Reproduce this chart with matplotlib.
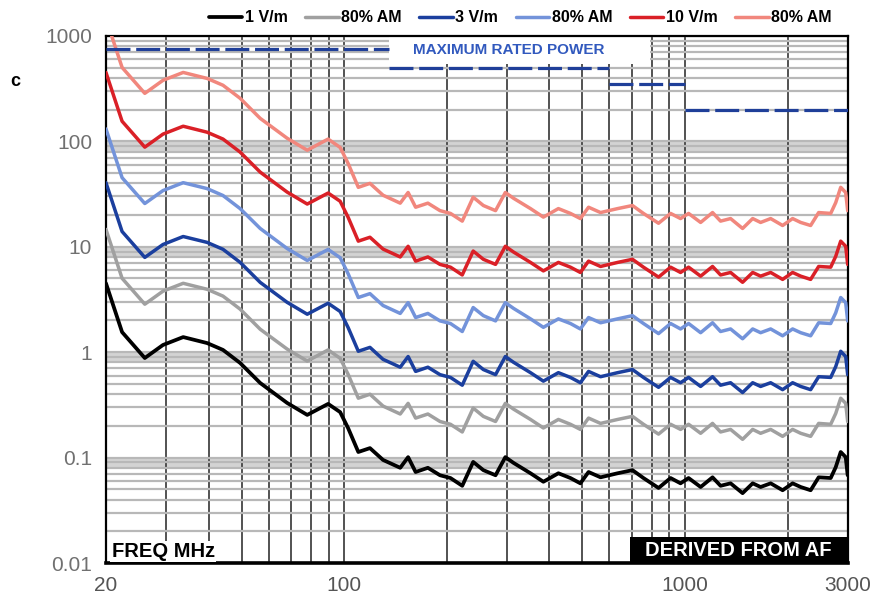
import numpy as np
import matplotlib
matplotlib.use("Agg")
import matplotlib.pyplot as plt
from matplotlib.ticker import FixedLocator, LogLocator, NullFormatter, FixedFormatter
from matplotlib.patches import Rectangle

plt.rcParams['font.family'] = ['Liberation Sans', 'DejaVu Sans']

# frequency points (MHz) shared by all curves
freq = [20, 22.3, 26.0, 29.4, 33.7, 39.6, 44.1, 49.5, 56.7, 68, 77.9, 89.7, 97.3, 102.7,
        110, 119, 130, 146, 154, 162, 176, 191, 205, 222, 239, 256, 278, 297, 314, 352,
        384, 425, 461, 493, 521, 565, 634, 701, 755, 836, 907, 970, 1024, 1111, 1204,
        1271, 1360, 1475, 1579, 1666, 1783, 1933, 2068, 2184, 2336, 2466, 2675, 2767,
        2862, 2960, 3000]

# 1 V/m
v1 = [4.5, 1.55, 0.88, 1.17, 1.39, 1.22, 1.05, 0.79, 0.51, 0.33, 0.254, 0.323, 0.27, 0.19,
      0.113, 0.123, 0.095, 0.080, 0.101, 0.073, 0.080, 0.068, 0.064, 0.054, 0.091, 0.076,
      0.068, 0.101, 0.089, 0.071, 0.059, 0.071, 0.064, 0.057, 0.073, 0.065, 0.071, 0.076,
      0.064, 0.0515, 0.064, 0.057, 0.064, 0.0526, 0.065, 0.054, 0.057, 0.046, 0.057,
      0.0526, 0.057, 0.049, 0.057, 0.0526, 0.049, 0.065, 0.064, 0.081, 0.113, 0.101, 0.068]

# 1 V/m, 80% AM
v1am = [14.6, 5.02, 2.85, 3.79, 4.50, 3.95, 3.40, 2.56, 1.65, 1.07, 0.823, 1.05, 0.875, 0.616,
        0.366, 0.399, 0.308, 0.259, 0.327, 0.237, 0.259, 0.220, 0.207, 0.175, 0.295, 0.246,
        0.220, 0.327, 0.288, 0.230, 0.191, 0.230, 0.207, 0.185, 0.237, 0.211, 0.230, 0.246,
        0.207, 0.167, 0.207, 0.185, 0.207, 0.170, 0.211, 0.175, 0.185, 0.149, 0.185,
        0.170, 0.185, 0.159, 0.185, 0.170, 0.159, 0.211, 0.207, 0.262, 0.366, 0.327, 0.220]

# 3 V/m
v3 = [40.5, 13.95, 7.92, 10.5, 12.5, 11.0, 9.45, 7.11, 4.59, 2.97, 2.29, 2.91, 2.43, 1.71,
      1.02, 1.11, 0.855, 0.72, 0.909, 0.657, 0.72, 0.612, 0.576, 0.486, 0.819, 0.684,
      0.612, 0.909, 0.801, 0.639, 0.531, 0.639, 0.576, 0.513, 0.657, 0.585, 0.639, 0.684,
      0.576, 0.464, 0.576, 0.513, 0.576, 0.473, 0.585, 0.486, 0.513, 0.414, 0.513,
      0.473, 0.513, 0.441, 0.513, 0.473, 0.441, 0.585, 0.576, 0.729, 1.02, 0.909, 0.612]

# 3 V/m, 80% AM
v3am = [131, 45.2, 25.7, 34.1, 40.5, 35.6, 30.6, 23.0, 14.9, 9.62, 7.41, 9.42, 7.87, 5.54,
        3.30, 3.59, 2.77, 2.33, 2.95, 2.13, 2.33, 1.98, 1.87, 1.57, 2.65, 2.22,
        1.98, 2.95, 2.60, 2.07, 1.72, 2.07, 1.87, 1.66, 2.13, 1.90, 2.07, 2.22,
        1.87, 1.50, 1.87, 1.66, 1.87, 1.53, 1.90, 1.57, 1.66, 1.34, 1.66,
        1.53, 1.66, 1.43, 1.66, 1.53, 1.43, 1.90, 1.87, 2.36, 3.30, 2.95, 1.98]

# 10 V/m
v10 = [450, 155, 88, 117, 139, 122, 105, 79, 51, 33, 25.4, 32.3, 27, 19,
       11.3, 12.3, 9.5, 8.0, 10.1, 7.3, 8.0, 6.8, 6.4, 5.4, 9.1, 7.6,
       6.8, 10.1, 8.9, 7.1, 5.9, 7.1, 6.4, 5.7, 7.3, 6.5, 7.1, 7.6,
       6.4, 5.15, 6.4, 5.7, 6.4, 5.26, 6.5, 5.4, 5.7, 4.6, 5.7,
       5.26, 5.7, 4.9, 5.7, 5.26, 4.9, 6.5, 6.4, 8.1, 11.3, 10.1, 6.8]

# 10 V/m, 80% AM
v10am = [1458, 502, 285, 379, 450, 395, 340, 256, 165, 107, 82.3, 105, 87.5, 61.6,
         36.6, 39.9, 30.8, 25.9, 32.7, 23.7, 25.9, 22.0, 20.7, 17.5, 29.5, 24.6,
         22.0, 32.7, 28.8, 23.0, 19.1, 23.0, 20.7, 18.5, 23.7, 21.1, 23.0, 24.6,
         20.7, 16.7, 20.7, 18.5, 20.7, 17.0, 21.1, 17.5, 18.5, 14.9, 18.5,
         17.0, 18.5, 15.9, 18.5, 17.0, 15.9, 21.1, 20.7, 26.2, 36.6, 32.7, 22.0]

labels = ['1 V/m', '80% AM', '3 V/m', '80% AM', '10 V/m', '80% AM']
colors = ['#000000', '#a0a0a0', '#1b3f9e', '#7393da', '#da2027', '#f1877d']

# maximum rated power steps
power_edges = [20, 135, 600, 1000, 3000]
power_levels = [750, 500, 350, 200]

fig = plt.figure(figsize=(8.83, 5.98), dpi=100)
ax = fig.add_axes([0.120, 0.0585, 0.840, 0.8815])
ax.set_xscale('log')
ax.set_yscale('log')
ax.set_xlim(20, 3000)
ax.set_ylim(0.01, 1000)

# gray bands just under each decade line
for d in [0.1, 1, 10, 100]:
    ax.axhspan(0.8 * d, d, color='#d3d3d3', lw=0, zorder=0.2)

ax.set_axisbelow(True)
ax.xaxis.set_major_locator(FixedLocator([20, 100, 1000, 3000]))
ax.xaxis.set_major_formatter(FixedFormatter(['20', '100', '1000', '3000']))
ax.xaxis.set_minor_locator(LogLocator(base=10, subs=np.arange(2, 10)))
ax.xaxis.set_minor_formatter(NullFormatter())
ax.yaxis.set_major_locator(FixedLocator([0.01, 0.1, 1, 10, 100, 1000]))
ax.yaxis.set_major_formatter(FixedFormatter(['0.01', '0.1', '1', '10', '100', '1000']))
ax.yaxis.set_minor_locator(LogLocator(base=10, subs=np.arange(2, 10)))
ax.yaxis.set_minor_formatter(NullFormatter())

ax.grid(True, axis='y', which='both', color='#b8b8b8', lw=1.6)
ax.grid(True, axis='x', which='both', color='#444444', lw=1.3)
ax.tick_params(which='both', length=0)
ax.tick_params(axis='y', labelsize=15, labelcolor='#707070', pad=10)
ax.tick_params(axis='x', labelsize=15, labelcolor='#555555', pad=9)

# white area behind the power label
ax.fill_between([135, 790], 540, 1000, color='white', lw=0, zorder=0.8)

series = [v1, v1am, v3, v3am, v10, v10am]
handles = []
for vals, lab, col in zip(series, labels, colors):
    lw = 2.7 if col == '#000000' else 2.5
    ln, = ax.plot(freq, vals, color=col, lw=lw, label=lab, zorder=3,
                  solid_joinstyle='round', solid_capstyle='round')
    handles.append(ln)

for i, lev in enumerate(power_levels):
    ax.plot([power_edges[i], power_edges[i + 1]], [lev, lev], color='#1f3f99', lw=2.3,
            dashes=(7.5, 1.8), zorder=3, solid_capstyle='butt', dash_capstyle='butt')

ax.text(303, 740, 'MAXIMUM RATED POWER', color='#3159be', fontsize=11,
        fontweight='bold', ha='center', va='center', zorder=4)

ax.text(0.008, 0.022, 'FREQ MHz', transform=ax.transAxes, fontsize=14.5,
        fontweight='bold', ha='left', va='center', zorder=4,
        bbox=dict(facecolor='white', edgecolor='none', pad=1))
ax.add_patch(Rectangle((0.706, 0), 0.294, 0.049, transform=ax.transAxes,
                       facecolor='black', edgecolor='none', zorder=4))
ax.text(0.853, 0.0245, 'DERIVED FROM AF', transform=ax.transAxes, fontsize=14.5,
        fontweight='bold', color='white', ha='center', va='center', zorder=5)

for s in ['left', 'top', 'right']:
    ax.spines[s].set_linewidth(1.6)
ax.spines['bottom'].set_linewidth(2.6)

fig.legend(handles, labels, loc='center right', bbox_to_anchor=(0.958, 0.970), ncol=6,
           frameon=False, handlelength=2.1, handletextpad=0.15, columnspacing=1.1,
           prop={'weight': 'bold', 'size': 11.5})

fig.text(0.012, 1 - 82 / 598, 'c', fontsize=13, fontweight='bold', va='center')

fig.savefig('out.png', dpi=100)
